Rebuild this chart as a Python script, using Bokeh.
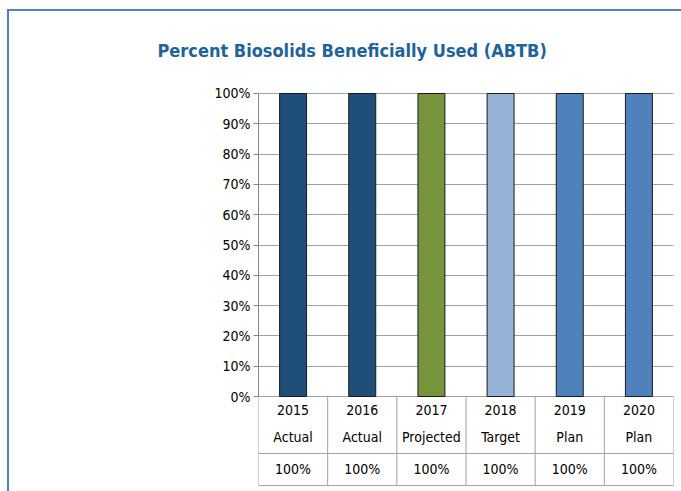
from bokeh.plotting import figure
from bokeh.models import Range1d, FixedTicker, NumeralTickFormatter, ColumnDataSource
from bokeh.core.properties import value
from bokeh.embed import file_html
from bokeh.resources import INLINE

years = ["2015", "2016", "2017", "2018", "2019", "2020"]
kinds = ["Actual", "Actual", "Projected", "Target", "Plan", "Plan"]
values = [1.0, 1.0, 1.0, 1.0, 1.0, 1.0]
value_labels = ["100%", "100%", "100%", "100%", "100%", "100%"]
colors = ["#1F4E79", "#1F4E79", "#77933C", "#95B3D7", "#4F81BD", "#4F81BD"]
y_ticks = [0.0, 0.1, 0.2, 0.3, 0.4, 0.5, 0.6, 0.7, 0.8, 0.9, 1.0]

FONT = "'DejaVu Sans Condensed', 'Liberation Sans Narrow', sans-serif"
BORDER = "#4F81BD"

n = len(years)
xs = [i + 0.5 for i in range(n)]

# frame: x 258..673, y top 83 ; 1.0 at y=93, 0 at y=396 (303 px per unit)
p = figure(width=681, height=491, output_backend="svg", toolbar_location=None,
           x_range=Range1d(0, n), y_range=Range1d(-0.3135, 1.033),
           x_axis_location=None, min_border_left=258, min_border_right=8,
           min_border_top=83, min_border_bottom=0)
p.outline_line_color = None
p.background_fill_color = "white"
p.border_fill_color = None
p.styles = {
    "background": (f"linear-gradient({BORDER},{BORDER}) 7px 9px / 674px 2px no-repeat, "
                   f"linear-gradient({BORDER},{BORDER}) 7px 9px / 2px 482px no-repeat, white")
}

src = ColumnDataSource(dict(x=xs, top=values, color=colors, year=years,
                            kind=kinds, vl=value_labels))
p.vbar(x="x", top="top", bottom=0, width=0.39, fill_color="color",
       line_color="#1a1a1a", line_width=1, source=src)

ax = p.yaxis[0]
ax.ticker = FixedTicker(ticks=y_ticks)
ax.formatter = NumeralTickFormatter(format="0%")
ax.bounds = (0, 1)
ax.major_tick_in = 0
ax.major_tick_out = 5
ax.minor_tick_line_color = None
ax.axis_line_color = "#868686"
ax.major_tick_line_color = "#868686"
ax.major_label_text_font = FONT
ax.major_label_text_font_size = "14px"
ax.major_label_text_color = "#000000"
ax.major_label_standoff = 3

p.xgrid.grid_line_color = None
p.ygrid.grid_line_color = "#A0A0A0"
p.ygrid.grid_line_width = 1

# table below the plot
row1 = -0.188
row_end = -0.294
p.segment(x0=list(range(n + 1)), y0=[0] * (n + 1), x1=list(range(n + 1)),
          y1=[row_end] * (n + 1), line_color="#A0A0A0", line_width=1)
p.segment(x0=[0, 0], y0=[row1, row_end], x1=[n, n], y1=[row1, row_end],
          line_color="#A0A0A0", line_width=1)
for col, yy in (("year", -0.046), ("kind", -0.135), ("vl", -0.238)):
    p.text(x="x", y=yy, text=col, source=src, text_align="center",
           text_baseline="middle", text_font=value(FONT), text_font_size="14px",
           text_color="#000000")

p.title.text = "Percent Biosolids Beneficially Used (ABTB)"
p.title.align = "left"
p.title.offset = -101
p.title.standoff = 45
p.title.text_font = FONT
p.title.text_font_style = "bold"
p.title.text_font_size = "18px"
p.title.text_color = "#1F639B"

open("out.html", "w").write(file_html(p, INLINE))
